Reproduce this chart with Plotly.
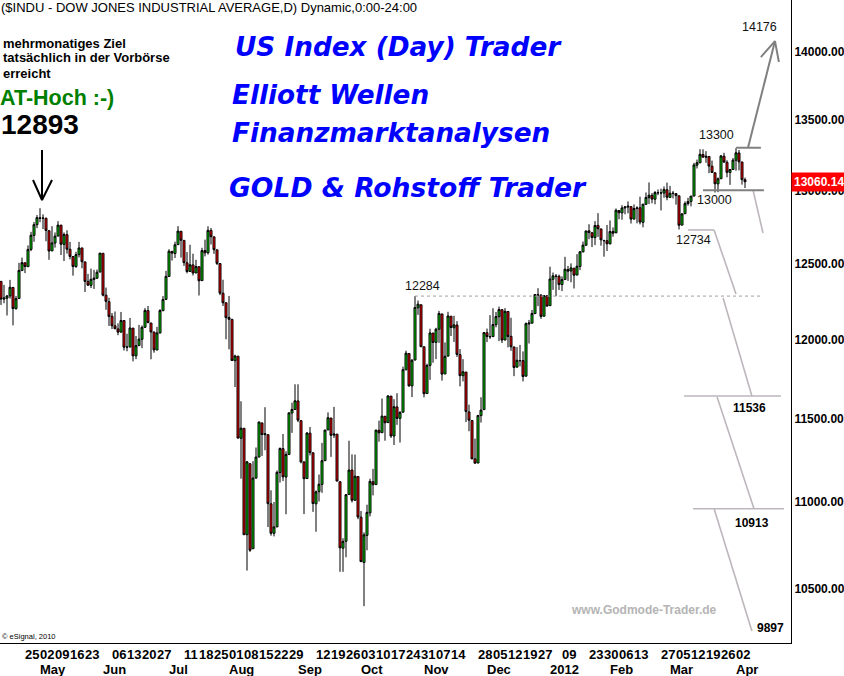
import numpy as np
import pandas as pd
import plotly.graph_objects as go

# ---------------- data (DJIA daily, Apr 12 2011 - Apr 5 2012) ----------------
opens = [
    12381, 12264, 12270, 12285, 12341, 12202, 12268, 12453, 12505, 12479, 12595, 12690, 12763,
    12810, 12807, 12807, 12722, 12585, 12638, 12685, 12760, 12629, 12695, 12596, 12547, 12480, 12560, 12605, 12511, 12381, 12355, 12394, 12402, 12443,
    12569, 12290, 12247, 12152, 12090, 12070, 12049, 12124, 11952, 11953, 12075, 11897, 11962, 12003, 12080, 12189, 12108, 12050, 11934, 12043, 12188, 12262,
    12414, 12582, 12567, 12627, 12718, 12656, 12505, 12447, 12491, 12437, 12479, 12386, 12587, 12572, 12724, 12680, 12592, 12500, 12303, 12240,
    12144, 12132, 11866, 11895, 11383, 11444, 10810, 11229, 10729, 11143, 11269, 11477, 11405, 11405, 10990, 10818, 10855, 11176, 11320, 11149, 11285, 11538, 11560,
    11613, 11491, 11240, 11140, 11414, 11295, 10990, 11062, 11105, 11247, 11434, 11507, 11402, 11408, 11121, 10732, 10772, 11045, 11191, 11011, 11152,
    10912, 10650, 10806, 10937, 11121, 11104, 11432, 11417, 11518, 11479, 11643, 11397, 11576, 11505, 11543, 11808, 11912, 11707, 11870, 12207, 12227,
    11955, 11659, 11836, 12043, 11983, 12068, 12167, 11782, 11895, 12152, 12077, 12095, 11905, 11771, 11794, 11545, 11492, 11258, 11233, 11522, 11559,
    12045, 12021, 12020, 12097, 12149, 12195, 11998, 12183, 12022, 11954, 11825, 11867, 11867, 11768, 12102, 12107, 12169, 12293, 12290, 12152, 12286,
    12221, 12395, 12413, 12415, 12360, 12393, 12460, 12450, 12469, 12423, 12480, 12578, 12623, 12721, 12708, 12675, 12758, 12734, 12656, 12654,
    12632, 12717, 12707, 12860, 12844, 12878, 12884, 12887, 12801, 12874, 12879, 12779, 12903, 12949, 12965, 12938, 12983, 12981, 12981, 13004,
    12951, 12981, 12977, 12962, 12760, 12838, 12908, 12923, 12960, 13176, 13193, 13252, 13232, 13238, 13169, 13123, 13045, 13081, 13240, 13197, 13125, 13146,
    13211, 13263, 13199, 13074,
]
highs = [
    12381, 12358, 12290, 12391, 12341, 12284, 12505, 12540, 12505, 12622, 12714, 12781, 12829,
    12876, 12834, 12811, 12722, 12753, 12710, 12787, 12760, 12710, 12725, 12646, 12548, 12579, 12646, 12605, 12511, 12431, 12466, 12458, 12460, 12570,
    12569, 12340, 12273, 12173, 12183, 12106, 12180, 12124, 12039, 12141, 12075, 12024, 12096, 12092, 12205, 12219, 12108, 12050, 12083, 12198, 12284, 12451,
    12596, 12582, 12647, 12753, 12718, 12656, 12577, 12626, 12566, 12525, 12479, 12606, 12661, 12752, 12740, 12680, 12592, 12500, 12392, 12240,
    12285, 12132, 11904, 11895, 11611, 11444, 11245, 11229, 11244, 11327, 11483, 11477, 11574, 11405, 11070, 11001, 11188, 11327, 11409, 11304, 11540, 11602, 11717,
    11717, 11491, 11240, 11421, 11452, 11295, 11069, 11164, 11355, 11435, 11542, 11507, 11576, 11409, 11121, 10789, 11047, 11368, 11285, 11284, 11152,
    10948, 10823, 10985, 11139, 11198, 11434, 11491, 11628, 11518, 11649, 11643, 11624, 11661, 11549, 11828, 11930, 11912, 11876, 12284, 12255, 12227,
    11955, 11847, 12071, 12043, 12077, 12187, 12167, 11983, 12181, 12152, 12155, 12120, 11940, 11876, 11794, 11590, 11492, 11381, 11523, 11636, 12046,
    12072, 12159, 12204, 12180, 12215, 12195, 12205, 12183, 12142, 11954, 11953, 11967, 11925, 12112, 12128, 12193, 12294, 12336, 12297, 12289, 12290,
    12479, 12440, 12430, 12426, 12414, 12545, 12484, 12501, 12469, 12563, 12582, 12648, 12722, 12766, 12708, 12787, 12842, 12734, 12656, 12761,
    12792, 12744, 12874, 12860, 12897, 12892, 12923, 12887, 12902, 12889, 12956, 12904, 12985, 13055, 12981, 12995, 13006, 13012, 13027, 13054,
    13031, 12995, 12977, 12962, 12842, 12923, 12948, 12960, 13193, 13216, 13290, 13289, 13276, 13238, 13209, 13123, 13090, 13248, 13264, 13211, 13150, 13227,
    13297, 13284, 13199, 13089,
]
lows = [
    12226, 12237, 12157, 12267, 12093, 12195, 12268, 12450, 12436, 12479, 12583, 12647, 12739,
    12780, 12733, 12650, 12525, 12585, 12607, 12685, 12557, 12517, 12567, 12528, 12419, 12471, 12541, 12468, 12311, 12351, 12337, 12331, 12398, 12443,
    12282, 12194, 12089, 12069, 12068, 12029, 12049, 11931, 11926, 11953, 11862, 11876, 11962, 11946, 12080, 12108, 11875, 11917, 11934, 12043, 12188, 12262,
    12414, 12520, 12537, 12627, 12540, 12484, 12434, 12447, 12420, 12437, 12288, 12386, 12548, 12560, 12628, 12565, 12490, 12290, 12219, 12003,
    11939, 11865, 11700, 11383, 11139, 10809, 10604, 10711, 10729, 11139, 11269, 11276, 11310, 10854, 10804, 10800, 10855, 11116, 11125, 10929, 11285, 11416, 11560,
    11482, 11231, 10930, 11140, 11279, 10943, 10827, 11004, 11055, 11247, 11434, 11270, 11385, 11124, 10597, 10597, 10680, 11045, 10998, 11011, 10900,
    10653, 10404, 10720, 10916, 11040, 11104, 11362, 11417, 11368, 11479, 11385, 11342, 11465, 11357, 11543, 11808, 11702, 11637, 11870, 12161, 11955,
    11635, 11659, 11745, 11853, 11876, 11980, 11740, 11782, 11895, 12024, 11986, 11890, 11704, 11735, 11482, 11426, 11258, 11231, 11233, 11479, 11559,
    11985, 12005, 12020, 12080, 11991, 11979, 11998, 11951, 11929, 11768, 11825, 11830, 11735, 11768, 11976, 12107, 12169, 12218, 12135, 12152, 12217,
    12221, 12325, 12283, 12324, 12317, 12393, 12384, 12375, 12334, 12423, 12456, 12578, 12623, 12664, 12611, 12624, 12680, 12620, 12546, 12584,
    12632, 12681, 12707, 12800, 12797, 12834, 12841, 12771, 12801, 12772, 12765, 12745, 12903, 12905, 12910, 12903, 12966, 12861, 12948, 12931,
    12951, 12944, 12901, 12730, 12760, 12838, 12894, 12889, 12960, 13153, 13193, 13232, 13193, 13120, 13124, 12985, 12987, 13081, 13194, 13091, 13038, 13146,
    13138, 13140, 13040, 13016,
]
closes = [
    12264, 12271, 12285, 12342, 12202, 12267, 12454, 12506, 12480, 12595, 12691, 12763, 12811,
    12807, 12808, 12724, 12584, 12639, 12685, 12760, 12630, 12696, 12596, 12548, 12480, 12560, 12605, 12512, 12381, 12356, 12395, 12403, 12442, 12570,
    12290, 12249, 12151, 12090, 12071, 12049, 12124, 11952, 11953, 12076, 11897, 11962, 12004, 12080, 12190, 12110, 12050, 11935, 12044, 12189, 12261, 12414,
    12583, 12570, 12626, 12719, 12657, 12506, 12447, 12492, 12437, 12480, 12385, 12587, 12572, 12724, 12681, 12593, 12501, 12303, 12240, 12143,
    12132, 11867, 11896, 11384, 11445, 10810, 11240, 10720, 11143, 11269, 11483, 11406, 11410, 10991, 10818, 10855, 11177, 11321, 11150, 11285, 11539, 11560, 11614,
    11494, 11240, 11139, 11415, 11296, 10992, 11061, 11106, 11247, 11433, 11509, 11401, 11409, 11125, 10734, 10771, 11044, 11191, 11011, 11154, 10913,
    10655, 10809, 10940, 11123, 11103, 11433, 11416, 11519, 11478, 11644, 11397, 11577, 11505, 11542, 11809, 11914, 11707, 11869, 12209, 12231, 11955,
    11658, 11836, 12044, 11983, 12068, 12170, 11781, 11894, 12154, 12079, 12096, 11906, 11771, 11796, 11547, 11494, 11258, 11232, 11523, 11556, 12046,
    12020, 12019, 12098, 12150, 12196, 11998, 12184, 12021, 11955, 11823, 11869, 11866, 11766, 12104, 12108, 12170, 12294, 12291, 12151, 12287, 12218,
    12397, 12418, 12416, 12360, 12393, 12462, 12449, 12471, 12422, 12482, 12579, 12624, 12720, 12709, 12676, 12757, 12735, 12660, 12654, 12633,
    12716, 12705, 12862, 12845, 12878, 12884, 12890, 12801, 12874, 12878, 12781, 12904, 12950, 12966, 12939, 12985, 12983, 12982, 13005, 12952,
    12980, 12978, 12963, 12759, 12837, 12908, 12922, 12960, 13178, 13194, 13253, 13233, 13239, 13170, 13125, 13046, 13081, 13242, 13198, 13126, 13146, 13212,
    13264, 13200, 13075, 13060.14,
]

holidays = ["2011-04-22", "2011-05-30", "2011-07-04", "2011-09-05", "2011-11-24",
            "2011-12-26", "2012-01-02", "2012-01-16", "2012-02-20"]

tick_days = ["2011-04-25", "2011-05-02", "2011-05-09", "2011-05-16", "2011-05-23",
             "2011-06-06", "2011-06-13", "2011-06-20", "2011-06-27",
             "2011-07-11", "2011-07-18", "2011-07-25",
             "2011-08-01", "2011-08-08", "2011-08-15", "2011-08-22", "2011-08-29",
             "2011-09-12", "2011-09-19", "2011-09-26",
             "2011-10-03", "2011-10-10", "2011-10-17", "2011-10-24", "2011-10-31",
             "2011-11-07", "2011-11-14", "2011-11-28",
             "2011-12-05", "2011-12-12", "2011-12-19", "2011-12-27",
             "2012-01-09", "2012-01-23", "2012-01-30", "2012-02-06", "2012-02-13",
             "2012-02-27", "2012-03-05", "2012-03-12", "2012-03-19", "2012-03-26", "2012-04-02"]
month_names = ["May", "Jun", "Jul", "Aug", "Sep", "Oct", "Nov", "Dec", "2012", "Feb", "Mar", "Apr"]
month_keys = ["2011-05", "2011-06", "2011-07", "2011-08", "2011-09", "2011-10",
              "2011-11", "2011-12", "2012-01", "2012-02", "2012-03", "2012-04"]
price_ticks = [10500, 11000, 11500, 12000, 12500, 13000, 13500, 14000]
last_price = 13060.14

# projection / level markup (trading-day index, price)
dark_lines = [
    ([245.0, 253.3], [13300, 13300]),
    ([234.0, 254.3], [13000, 13000]),
    ([249.0, 258.0], [13300, 14082]),
    ([253.3, 258.0, 259.3], [13962, 14082, 13925]),
]
light_lines = [
    ([250.7, 254.0], [13000, 12706]),
    ([229.0, 237.7], [12727, 12727]),
    ([237.7, 245.0], [12727, 12297]),
    ([240.7, 250.3], [12271, 11644]),
    ([227.7, 260.0], [11644, 11644]),
    ([238.7, 251.0], [11638, 10961]),
    ([230.7, 261.0], [10961, 10961]),
    ([237.7, 250.3], [10961, 10266]),
]
thin_lines = [([138.0, 254.0], [12284, 12284])]
black_arrow = [([13.67, 13.67], [13284, 12933]), ([10.67, 13.67, 17.0], [13072, 12933, 13072])]

# ---------------- figure ----------------
n = min(len(opens), len(highs), len(lows), len(closes))
days = pd.bdate_range("2011-04-12", "2012-04-05")
days = days[~days.isin(pd.to_datetime(holidays))][:n]
xi = np.arange(n)
pos = {d.strftime("%Y-%m-%d"): i for i, d in enumerate(days)}

W, H = 844, 676
PW, PH = 791, 643


def pxx(p):
    return p / PW


def pxy(p):
    return (PH - p) / PH


fig = go.Figure()
fig.add_trace(go.Candlestick(
    x=xi, open=opens[:n], high=highs[:n], low=lows[:n], close=closes[:n],
    increasing=dict(fillcolor="#00d200", line=dict(color="#000000", width=1)),
    decreasing=dict(fillcolor="#ff0000", line=dict(color="#000000", width=1)),
    whiskerwidth=0, showlegend=False, hoverinfo="skip"))

for xs, ys in thin_lines:
    fig.add_trace(go.Scatter(x=xs, y=ys, mode="lines", line=dict(color="#a0a0a0", width=1, dash="dot"),
                             showlegend=False, hoverinfo="skip"))
for xs, ys in light_lines:
    fig.add_trace(go.Scatter(x=xs, y=ys, mode="lines", line=dict(color="#bdb6bd", width=1.6),
                             showlegend=False, hoverinfo="skip"))
for xs, ys in dark_lines:
    fig.add_trace(go.Scatter(x=xs, y=ys, mode="lines", line=dict(color="#808080", width=2),
                             showlegend=False, hoverinfo="skip"))
for xs, ys in black_arrow:
    fig.add_trace(go.Scatter(x=xs, y=ys, mode="lines", line=dict(color="#000000", width=2),
                             showlegend=False, hoverinfo="skip"))

ARIAL = "Liberation Sans, Arial, sans-serif"
ann = []


def txt(text, x, y, size=12, color="#000000", weight="normal", style="normal",
        family=ARIAL, xanchor="left", yanchor="middle"):
    ann.append(dict(text=text, x=pxx(x), y=pxy(y), xref="paper", yref="paper",
                    xanchor=xanchor, yanchor=yanchor, showarrow=False,
                    font=dict(size=size, color=color, weight=weight, style=style, family=family)))


txt("($INDU - DOW JONES INDUSTRIAL AVERAGE,D) Dynamic,0:00-24:00", -1, 8, size=13)
txt("mehrmonatiges Ziel", 1, 43, size=13, weight="bold")
txt("tatsächlich in der Vorbörse", 1, 58, size=13, weight="bold")
txt("erreicht", 1, 73, size=13, weight="bold")
txt("AT-Hoch :-)", -2, 98, size=21.5, weight="bold", color="#008000")
txt("12893", -1, 124, size=28, weight="bold")

BLUE_FONT = "DejaVu Sans, sans-serif"
txt("US Index (Day) Trader", 233, 47, size=26.3, weight="bold", style="italic", color="#0000ff", family=BLUE_FONT)
txt("Elliott Wellen", 230, 95, size=26.3, weight="bold", style="italic", color="#0000ff", family=BLUE_FONT)
txt("Finanzmarktanalysen", 230, 133, size=26.3, weight="bold", style="italic", color="#0000ff", family=BLUE_FONT)
txt("GOLD & Rohstoff Trader", 227, 187, size=26.6, weight="bold", style="italic", color="#0000ff", family=BLUE_FONT)

txt("14176", 759, 27, size=12.5, color="#111111", xanchor="center")
txt("13300", 716, 135, size=12.5, color="#111111", xanchor="center")
txt("13000", 714, 200, size=12.5, color="#111111", xanchor="center")
txt("12734", 693, 240, size=12.5, color="#111111", xanchor="center")
txt("12284", 422, 286, size=12.5, color="#111111", xanchor="center")
txt("11536", 749, 408, size=12, weight="bold", xanchor="center")
txt("10913", 752, 523, size=12, weight="bold", xanchor="center")
txt("9897", 770, 628, size=12, weight="bold", xanchor="center")
txt("www.Godmode-Trader.de", 569, 610, size=12, weight="bold", color="#b4b4b4")
txt("© eSignal, 2010", 0, 636, size=7.5)

# bottom day / month labels
for d in tick_days:
    if d in pos:
        ann.append(dict(text=d[-2:], x=pos[d], y=0, xref="x", yref="paper",
                        xanchor="left", yanchor="top", yshift=-2, xshift=-2, showarrow=False,
                        font=dict(size=13, weight="bold", family=ARIAL, color="#000000")))
for name, key in zip(month_names, month_keys):
    idxs = [i for i, d in enumerate(days) if d.strftime("%Y-%m") == key]
    if idxs:
        ann.append(dict(text=name, x=idxs[0], y=0, xref="x", yref="paper",
                        xanchor="left", yanchor="top", yshift=-17, xshift=-2, showarrow=False,
                        font=dict(size=13, weight="bold", family=ARIAL, color="#000000")))

# last price box
ann.append(dict(text="<b>%.2f</b>" % last_price, x=1, y=np.log10(last_price), xref="paper", yref="y",
                xanchor="left", yanchor="middle", showarrow=False, bgcolor="#ff0000",
                borderpad=2, xshift=0,
                font=dict(size=12, color="#ffffff", family=ARIAL)))

y_top = np.log10(14000) + 52 / 4298
y_bot = np.log10(14000) - (PH - 52) / 4298

fig.update_layout(
    width=W, height=H,
    margin=dict(l=0, r=W - PW, t=0, b=H - PH, pad=0),
    paper_bgcolor="#ffffff", plot_bgcolor="#ffffff",
    annotations=ann, showlegend=False, boxgap=0.05,
    xaxis=dict(range=[-1 / 3, (PW - 1) / 3], showgrid=False, zeroline=False,
               showticklabels=False, ticks="", showline=True, linecolor="#000000", linewidth=1,
               rangeslider=dict(visible=False), fixedrange=True),
    yaxis=dict(type="log", range=[y_bot, y_top], side="right", showgrid=False, zeroline=False,
               tickvals=price_ticks, ticktext=["%.2f" % v for v in price_ticks],
               tickfont=dict(size=12, weight="bold", family=ARIAL, color="#000000"),
               ticks="", showline=True, linecolor="#000000", linewidth=1, fixedrange=True),
)

fig.write_html("out.html", config={"displayModeBar": False},
               post_script="document.body.style.margin='0';document.body.style.padding='0';document.body.style.overflow='hidden';")
